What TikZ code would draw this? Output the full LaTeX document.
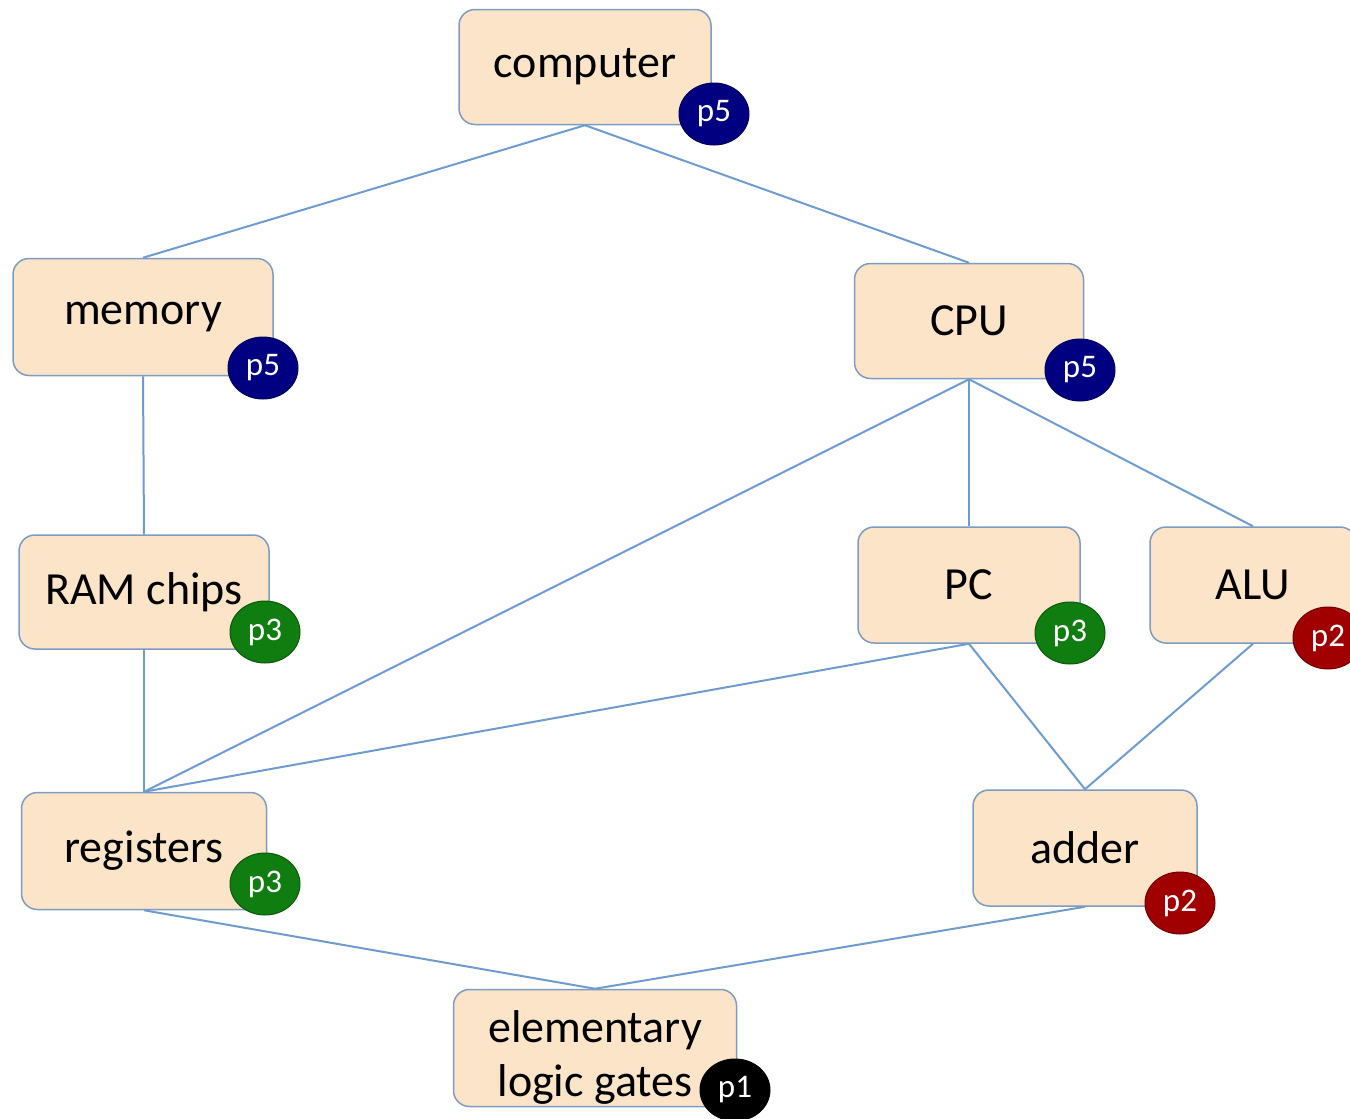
\documentclass[tikz,border=0pt]{standalone}
\usepackage{fontspec}
\setmainfont{Carlito}
\usetikzlibrary{shapes.geometric}
\definecolor{boxfill}{RGB}{252,228,200}
\definecolor{boxline}{RGB}{125,155,195}
\definecolor{edgecol}{RGB}{110,155,208}
\definecolor{bblue}{RGB}{0,0,128}
\definecolor{bgreen}{RGB}{16,125,16}
\definecolor{bred}{RGB}{160,0,0}
\begin{document}
\begin{tikzpicture}[x=1pt,y=-1pt,
  box/.style={draw=boxline,line width=1.5pt,fill=boxfill,rounded corners=16pt,
    inner sep=0pt,align=center,font=\fontsize{46}{54}\selectfont},
  badge/.style={ellipse,fill=#1,draw=#1!70!black,line width=1pt,minimum width=70pt,
    minimum height=62pt,inner sep=0pt,text=white,font=\fontsize{33}{38}\selectfont},
  edge/.style={draw=edgecol,line width=2pt}]
\useasboundingbox (0,0) rectangle (1350,1119);
\node[box,minimum width=252pt,minimum height=115pt] (comp) at (585,67) {computer};
\node[box,minimum width=260pt,minimum height=117pt] (mem) at (143,317) {memory};
\node[box,minimum width=229pt,minimum height=115pt] (cpu) at (969,321) {CPU};
\node[box,minimum width=250pt,minimum height=114pt] (ram) at (144,592) {RAM chips};
\node[box,minimum width=222pt,minimum height=116pt] (pc) at (969,585) {PC};
\node[box,minimum width=206pt,minimum height=116pt] (alu) at (1253,585) {ALU};
\node[box,minimum width=245pt,minimum height=117pt] (reg) at (144,851) {registers};
\node[box,minimum width=224pt,minimum height=116pt] (add) at (1085,848) {adder};
\node[box,minimum width=283pt,minimum height=117pt] (gates) at (595,1048) {\raisebox{0pt}[\dimexpr\height+11pt\relax][\dimexpr\depth-11pt\relax]{\begin{tabular}{@{}c@{}}elementary\\logic gates\end{tabular}}};
\draw[edge] (comp.south) -- (mem.north);
\draw[edge] (comp.south) -- (cpu.north);
\draw[edge] (mem.south) -- (ram.north);
\draw[edge] (ram.south) -- (reg.north);
\draw[edge] (cpu.south) -- (reg.north);
\draw[edge] (cpu.south) -- (pc.north);
\draw[edge] (cpu.south) -- (alu.north);
\draw[edge] (pc.south) -- (reg.north);
\draw[edge] (pc.south) -- (add.north);
\draw[edge] (alu.south) -- (add.north);
\draw[edge] (reg.south) -- (gates.north);
\draw[edge] (add.south) -- (gates.north);
\node[badge=bblue] (bcomp) at (714,114) {p5};
\node[badge=bblue] (bmem) at (263,368) {p5};
\node[badge=bblue] (bcpu) at (1080,370) {p5};
\node[badge=bgreen] (bram) at (265,632) {p3};
\node[badge=bgreen] (bpc) at (1070,633) {p3};
\node[badge=bred] (balu) at (1328,638) {p2};
\node[badge=bgreen] (breg) at (265,884) {p3};
\node[badge=bred] (badd) at (1180,903) {p2};
\node[badge=black] (bgates) at (735,1090) {p1};
\end{tikzpicture}
\end{document}
